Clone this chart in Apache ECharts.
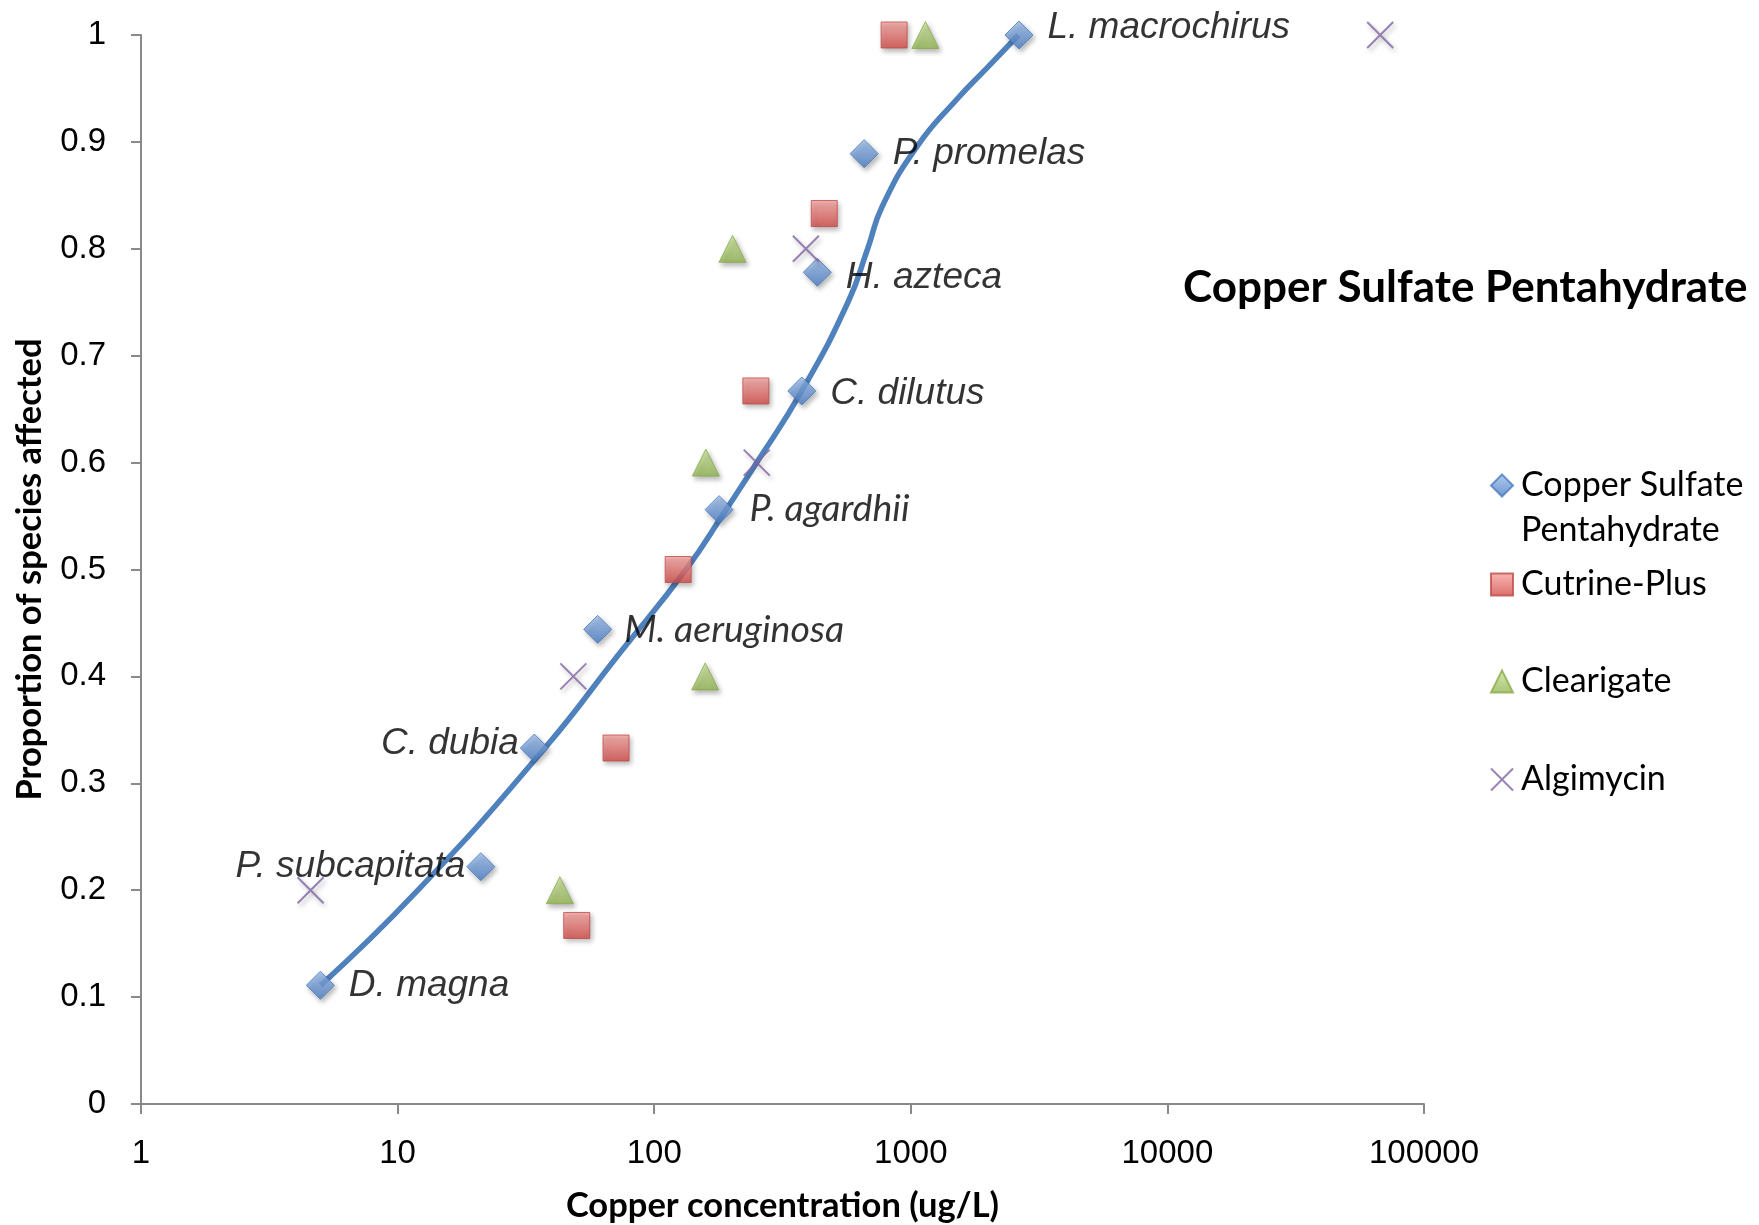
<!DOCTYPE html>
<html><head><meta charset="utf-8">
<script src="https://cdn.jsdelivr.net/npm/echarts@6/dist/echarts.min.js"></script>
<style>html,body{margin:0;padding:0;background:#fff}#c{width:1759px;height:1225px}</style>
</head><body><div id="c"></div>
<script>
// ---- data ----
const speciesNames = ['D. magna','P. subcapitata','C. dubia','M. aeruginosa','P. agardhii','C. dilutus','H. azteca','P. promelas','L. macrochirus'];
const cspX = [5.0, 21.1, 34.1, 60.2, 179, 376, 432, 658, 2640];
const cspY = [0.111, 0.222, 0.333, 0.444, 0.556, 0.667, 0.778, 0.889, 1.0];
const cutrineX = [49.9, 71.0, 124, 249, 460, 861];
const cutrineY = [0.167, 0.333, 0.5, 0.667, 0.833, 1.0];
const clearigateX = [42.9, 158, 159, 202, 1140];
const clearigateY = [0.2, 0.4, 0.6, 0.8, 1.0];
const algimycinX = [4.58, 48.4, 251, 390, 67500];
const algimycinY = [0.2, 0.4, 0.6, 0.8, 1.0];
const fitX = [5.01, 12.0, 37.5, 72.4, 133, 190.5, 251, 376, 569, 679, 775, 1060, 1500, 1995, 2630];
const fitY = [0.111, 0.2, 0.333, 0.42, 0.5, 0.556, 0.6, 0.667, 0.75, 0.8, 0.84, 0.896, 0.939, 0.97, 1.0];
const xTickLabels = ['1','10','100','1000','10000','100000'];
const yTickLabels = ['0','0.1','0.2','0.3','0.4','0.5','0.6','0.7','0.8','0.9','1'];
const seriesNames = ['Copper Sulfate Pentahydrate','Cutrine-Plus','Clearigate','Algimycin'];

// ---- label layout (styling, not data) ----
const labelSide = ['right','left','left','right','right','right','right','right','right'];
const labelDy = [0, 0, -4, 1, -1, 3, 5, 0, -7];
const labelDx = [0, 0, 0, -2, 2, 0, 0, 0, 0];
const labelAltFont = [false,false,false,true,true,false,false,false,false];

const zip = (xs, ys) => xs.map((x, i) => [x, ys[i]]);
const grad = (a, b) => ({type:'linear', x:0, y:0, x2:0, y2:1, colorStops:[{offset:0,color:a},{offset:1,color:b}]});
const shadow = {shadowBlur:5, shadowOffsetX:2, shadowOffsetY:3, shadowColor:'rgba(0,0,0,0.35)'};

const cspData = cspX.map((x, i) => ({
  value:[x, cspY[i]],
  label:{
    show:true,
    formatter: speciesNames[i],
    position: labelSide[i],
    distance: labelSide[i] === 'right' ? 14 : 1,
    offset:[labelDx[i], labelDy[i]],
    fontFamily: labelAltFont[i] ? 'Lato' : 'Liberation Sans',
    fontStyle:'italic',
    fontSize: labelAltFont[i] ? 37.5 : 37,
    color:'#000'
  }
}));

const axisColor = '#898989';
const legendText = {fontFamily:'Lato', fontSize:34, color:'#000', lineHeight:45, padding:[0,0,0,3]};
const legendTops = [418, 562, 659, 757];

const chart = echarts.init(document.getElementById('c'), null, {renderer:'canvas'});
chart.setOption({
  animation:false,
  backgroundColor:'#fff',
  title:{
    text:'Copper Sulfate Pentahydrate',
    left:1183, top:262, padding:0,
    textStyle:{fontFamily:'Lato', fontWeight:'bold', fontSize:44, color:'#000', lineHeight:52}
  },
  grid:{left:141, right:335, top:35, bottom:121, containLabel:false, outerBoundsMode:'none'},
  legend: seriesNames.map((n, i) => ({
    data:[n],
    left:1490, top:legendTops[i], padding:0,
    orient:'vertical',
    selectedMode:false,
    itemWidth:22, itemHeight:22, itemGap:0,
    itemStyle:{shadowBlur:0, shadowOffsetX:0, shadowOffsetY:0, shadowColor:'transparent'},
    formatter: name => name === 'Copper Sulfate Pentahydrate' ? '\nCopper Sulfate\nPentahydrate' : name,
    textStyle: legendText
  })),
  xAxis:{
    type:'log', logBase:10, min:1, max:100000,
    axisLine:{lineStyle:{color:axisColor, width:2}},
    axisTick:{length:10, lineStyle:{color:axisColor, width:2}},
    minorTick:{show:false},
    splitLine:{show:false},
    axisLabel:{fontFamily:'Liberation Sans', fontSize:33, color:'#000', margin:33,
      formatter: v => xTickLabels[Math.round(Math.log10(v))]},
    name:'Copper concentration (ug/L)',
    nameLocation:'middle', nameGap:84,
    nameTextStyle:{fontFamily:'Lato', fontWeight:'bold', fontSize:34.5, color:'#000'}
  },
  yAxis:{
    type:'value', min:0, max:1, interval:0.1,
    axisLine:{show:true, lineStyle:{color:axisColor, width:2}},
    axisTick:{show:true, length:10, lineStyle:{color:axisColor, width:2}},
    splitLine:{show:false},
    axisLabel:{fontFamily:'Liberation Sans', fontSize:33, color:'#000', margin:35,
      formatter: v => yTickLabels[Math.round(v * 10)]},
    name:'Proportion of species affected',
    nameLocation:'middle', nameGap:94,
    nameTextStyle:{fontFamily:'Lato', fontWeight:'bold', fontSize:34.5, color:'#000'}
  },
  series:[
    {
      name:'fit', type:'line', data: zip(fitX, fitY), smooth:0.5, showSymbol:false, silent:true,
      lineStyle:{color:'#4F81BD', width:5.5}, z:2
    },
    {
      name:seriesNames[0], type:'scatter', data:cspData, symbol:'diamond', symbolSize:28,
      itemStyle:Object.assign({color:grad('#9DBDEB','#4A7EC5'), borderColor:'#4A7CBD', borderWidth:1}, shadow), z:3
    },
    {
      name:seriesNames[1], type:'scatter', data:zip(cutrineX, cutrineY), symbol:'rect', symbolSize:26,
      itemStyle:Object.assign({color:grad('#F7A5A2','#D24A46'), borderColor:'#BE4B48', borderWidth:1}, shadow), z:3
    },
    {
      name:seriesNames[2], type:'scatter', data:zip(clearigateX, clearigateY), symbol:'triangle', symbolSize:[27,27],
      itemStyle:Object.assign({color:grad('#C9E39A','#93B752'), borderColor:'#8AAB4C', borderWidth:1}, shadow), z:3
    },
    {
      name:seriesNames[3], type:'scatter', data:zip(algimycinX, algimycinY), symbol:'path://M0,0L20,20M20,0L0,20', symbolSize:26,
      itemStyle:Object.assign({color:'#8064A2', borderColor:'#8064A2', borderWidth:2}, shadow), z:3
    }
  ]
});
</script></body></html>
